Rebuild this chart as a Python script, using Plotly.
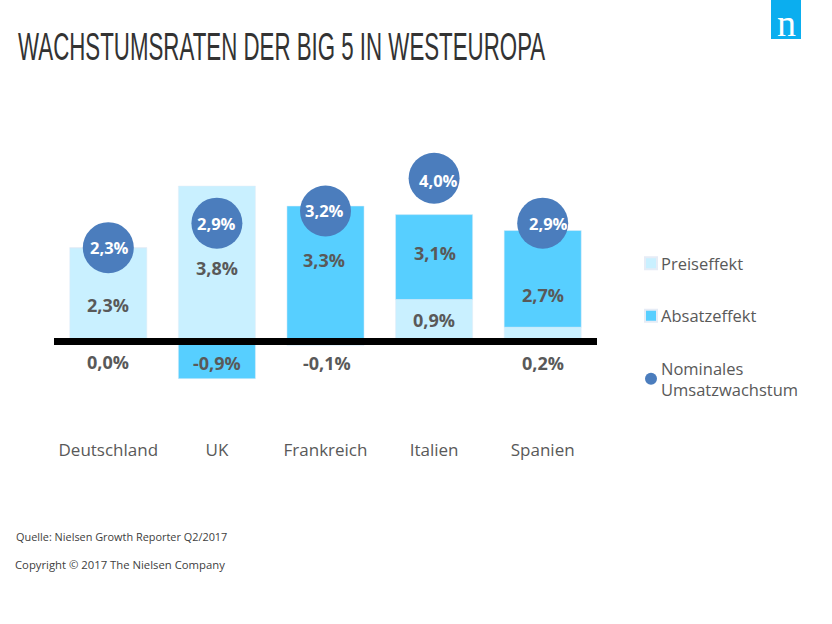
import plotly.graph_objects as go

LAENDER = ["Deutschland", "UK", "Frankreich", "Italien", "Spanien"]
# bar lengths as drawn in the picture
PREISEFFEKT = [2.3, 3.81, -0.1, 1.03, 0.35]
ABSATZEFFEKT = [0.0, -0.91, 3.32, 2.08, 2.37]
# circle values
NOMINAL = [2.3, 2.9, 3.2, 4.0, 2.9]
NOMINAL_LABELS = ["2,3%", "2,9%", "3,2%", "4,0%", "2,9%"]
UPPER_LABELS = ["2,3%", "3,8%", "3,3%", "3,1%", "2,7%"]
LOWER_LABELS = ["0,0%", "-0,9%", "-0,1%", None, "0,2%"]
MIDDLE_LABELS = [None, None, None, "0,9%", None]

W, H = 832, 624
PLOT_L, PLOT_R, PLOT_T, PLOT_B = 54, 597, 100, 430
ZERO_PX, PX_PER_UNIT = 341.5, 40.8
Y_RANGE = [(ZERO_PX - PLOT_B) / PX_PER_UNIT, (ZERO_PX - PLOT_T) / PX_PER_UNIT]


def fx(px):
    return px / W


def fy(py):
    return 1 - py / H


def val(py):
    return (ZERO_PX - py) / PX_PER_UNIT


LIGHT, BLUE, CIRCLE, GREY = "#C9F0FF", "#57CFFF", "#4B7DBD", "#595959"
FONT = "Open Sans"

fig = go.Figure()
fig.add_bar(x=LAENDER, y=PREISEFFEKT, name="Preiseffekt", marker_color=LIGHT, legendgroup="a")
fig.add_bar(x=LAENDER, y=ABSATZEFFEKT, name="Absatzeffekt", marker_color=BLUE, legendgroup="b")
fig.add_scatter(x=LAENDER, y=NOMINAL, mode="markers", name="Nominales<br>Umsatzwachstum",
                marker=dict(size=51, color=CIRCLE), legendgroup="c")

ann = []
UPPER_Y = [305, 268, 260, 253, 295]
LOWER_Y = [362, 363, 363, None, 363]
UPPER_DX = [0, 0, -2, 1, 0]
LOWER_DX = [0, 0, 1, 0, 0]
NOMINAL_DX = [1, 0, -1, 4, 6]
NOMINAL_DY = [0, 0, 0, 2, 0]

for i, c in enumerate(LAENDER):
    ann.append(dict(x=c, y=NOMINAL[i], text=f"<b>{NOMINAL_LABELS[i]}</b>", xshift=NOMINAL_DX[i],
                    yshift=-NOMINAL_DY[i], showarrow=False, font=dict(family=FONT, size=16.5, color="white")))
    ann.append(dict(x=c, y=val(UPPER_Y[i]), text=f"<b>{UPPER_LABELS[i]}</b>", xshift=UPPER_DX[i],
                    showarrow=False, font=dict(family=FONT, size=18, color=GREY)))
    if LOWER_LABELS[i]:
        ann.append(dict(x=c, y=val(LOWER_Y[i]), text=f"<b>{LOWER_LABELS[i]}</b>", xshift=LOWER_DX[i],
                        showarrow=False, font=dict(family=FONT, size=18, color=GREY)))
    if MIDDLE_LABELS[i]:
        ann.append(dict(x=c, y=val(320), text=f"<b>{MIDDLE_LABELS[i]}</b>",
                        showarrow=False, font=dict(family=FONT, size=18, color=GREY)))


def page_text(x, y, text, size, color, family=FONT, anchor="left"):
    ann.append(dict(xref="paper", yref="paper", x=fx(x), y=fy(y), text=text, showarrow=False,
                    xanchor=anchor, yanchor="middle", font=dict(family=family, size=size, color=color)))


TITLE = "WACHSTUMSRATEN DER BIG 5 IN WESTEUROPA"
page_text(281, 47, TITLE, 22.3, "#333333", "Liberation Sans", "center")
page_text(14, 536, "Quelle: Nielsen Growth Reporter Q2/2017", 10.9, "#404040")
page_text(13, 564, "Copyright © 2017 The Nielsen Company", 11.3, "#404040")
page_text(786, 23, "n", 38, "white", "Liberation Serif", "center")

fig.update_layout(
    width=W, height=H, autosize=False, margin=dict(l=0, r=0, t=0, b=0),
    paper_bgcolor="white", plot_bgcolor="white",
    barmode="relative", bargap=0.29,
    xaxis=dict(domain=[fx(PLOT_L), fx(PLOT_R)], range=[-0.5, 4.5], showgrid=False, zeroline=False, showline=False,
               ticks="outside", ticklen=5, tickcolor="rgba(0,0,0,0)",
               tickfont=dict(family=FONT, size=17, color=GREY)),
    yaxis=dict(domain=[fy(PLOT_B), fy(PLOT_T)], range=Y_RANGE, visible=False, showgrid=False, zeroline=False),
    legend=dict(x=fx(621), y=fy(246), xanchor="left", yanchor="top", tracegroupgap=28,
                font=dict(family=FONT, size=16.5, color=GREY), traceorder="grouped",
                itemsizing="constant", bgcolor="rgba(0,0,0,0)"),
    annotations=ann,
    shapes=[
        dict(type="line", xref="x domain", yref="y", x0=0, x1=1, y0=0, y1=0,
             line=dict(color="black", width=7), layer="above"),
        dict(type="rect", xref="paper", yref="paper", x0=fx(771), x1=fx(801), y0=fy(39), y1=fy(0),
             fillcolor="#0BAEEF", line_width=0, layer="below"),
    ],
)

POST = """
document.body.style.margin = '0';
document.querySelectorAll('.annotation-text').forEach(function (t) {
  if (t.textContent.indexOf('WACHSTUMSRATEN') === 0) {
    t.style.transformBox = 'fill-box';
    t.style.transformOrigin = 'center';
    t.style.transform = 'scaleY(1.75)';
  }
});
document.querySelectorAll('.legend .legendsymbols').forEach(function (g) {
  g.setAttribute('transform', 'translate(10,0)');
});
"""
fig.write_html("out.html", config=dict(displayModeBar=False), post_script=POST)
